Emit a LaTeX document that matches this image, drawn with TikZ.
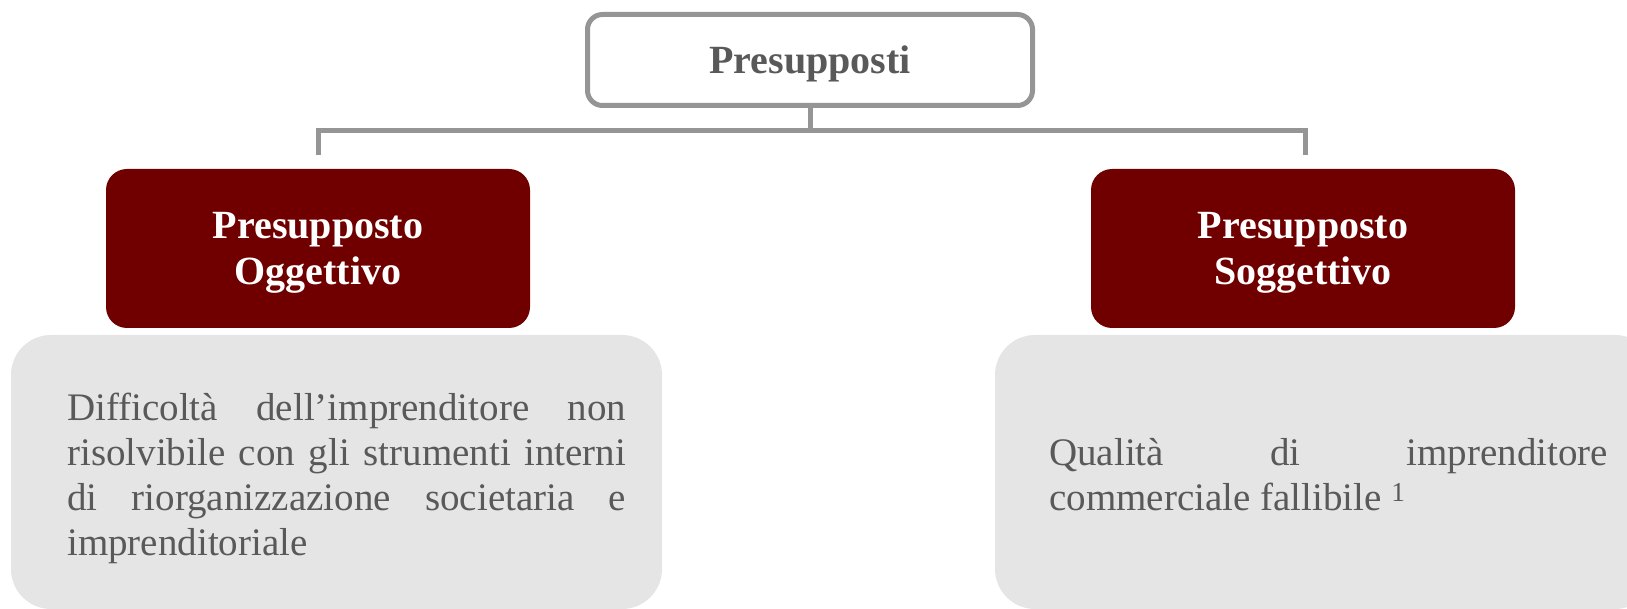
\documentclass[tikz,border=0pt]{standalone}
\usepackage{fontspec}
\setmainfont{Liberation Serif}
\definecolor{linegray}{HTML}{959595}
\definecolor{txtgray}{HTML}{595959}
\definecolor{darkred}{HTML}{700000}
\definecolor{boxgray}{HTML}{E5E5E5}
\tikzset{
  topbox/.style={draw=linegray, line width=5pt, rounded corners=15pt, fill=white,
    minimum width=445pt, minimum height=91pt, inner sep=0pt, text depth=0pt,
    font=\fontsize{40}{46}\selectfont\bfseries, text=txtgray},
  redbox/.style={fill=darkred, rounded corners=21pt, minimum width=424pt,
    minimum height=159pt, inner sep=0pt, align=center, text=white, text depth=0pt,
    font=\fontsize{40}{46}\selectfont\bfseries},
  graybox/.style={fill=boxgray, rounded corners=40pt, inner sep=0pt},
  conn/.style={draw=linegray, line width=5pt},
  bodytext/.style={align=justify, text=txtgray, inner sep=0pt, anchor=north west,
    text width=559pt, font=\fontsize{39}{45}\selectfont}
}
\newcommand{\firststrut}{\rule{0pt}{30pt}}
\begin{document}
\begin{tikzpicture}[x=1pt,y=-1pt]
\useasboundingbox (0,0) rectangle (1627,609);
\node[graybox, minimum width=651pt, minimum height=274pt] (lgray) at (336.5,472) {};
\node[graybox, minimum width=660pt, minimum height=274pt] (rgray) at (1325,472) {};
\node[topbox] (top) at (810,60) {Presupposti};
\node[redbox] (lred) at (318,248.5) {Presupposto\\Oggettivo};
\node[redbox] (rred) at (1303,248.5) {Presupposto\\Soggettivo};
\coordinate (bus) at (top.south |- 0,131);
\coordinate (lend) at (318,155);
\coordinate (rend) at (1305,155);
\draw[conn] (top.south) -- (bus);
\draw[conn] (lend) |- (bus) -| (rend);
\node[bodytext] (ltext) at (67,390) {\hyphenpenalty=10000\firststrut
Difficoltà dell’imprenditore non\linebreak risolvibile con gli strumenti interni\linebreak di riorganizzazione societaria e\linebreak imprenditoriale};
\node[bodytext] (rtext) at (1049,435) {\hyphenpenalty=10000\firststrut
Qualità di imprenditore\linebreak commerciale fallibile \textsuperscript{1}};
\end{tikzpicture}
\end{document}
